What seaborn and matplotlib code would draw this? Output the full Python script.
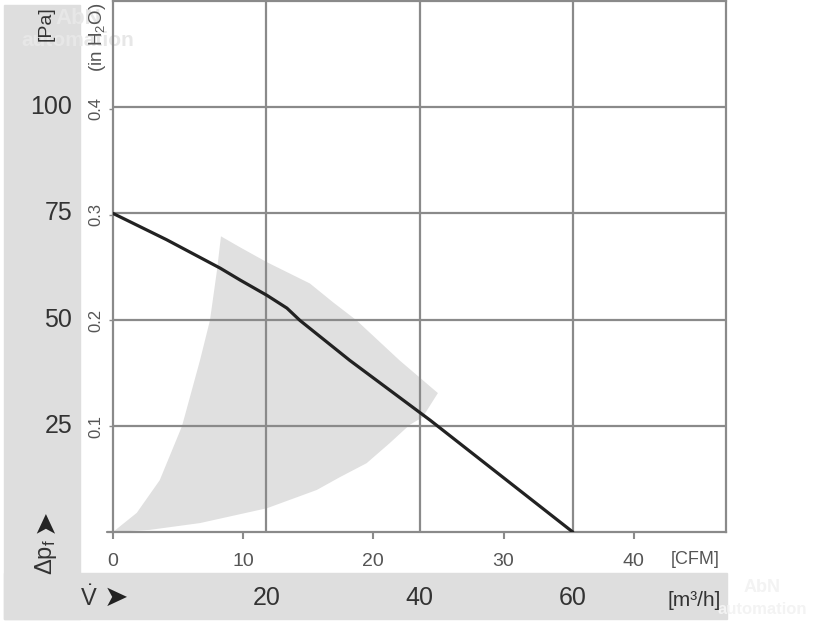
import numpy as np
import pandas as pd
import seaborn as sns
import matplotlib.pyplot as plt
import matplotlib.transforms as mtransforms
from matplotlib.patches import Rectangle
# --------------------------------------------------------------------------------------------------
# Fan curve: pressure [Pa] vs. flow [m3/h]
flow_m3h = [0, 7, 14, 16.6, 20.1, 22.7, 24.4, 30.9, 41.4, 60]
pressure_pa = [75, 68.8, 62.1, 59.3, 55.7, 52.7, 49.8, 40.4, 26.3, 0]

# Operating area (shaded), traced around its outline
area_flow = [0, 3.1, 6.1, 9.0, 11.35, 12.65, 13.57, 14.09,
             16.6, 20.1, 25.7, 28.7, 31.8, 37.4, 40.0, 42.4,
             40.4, 38.7, 36.1, 33.1, 29.6, 26.6, 20.1, 11.35, 4.8, 0]
area_pa = [0, 4.5, 12.2, 24.9, 40.4, 49.8, 61.6, 69.6,
           67.0, 63.5, 58.5, 54.1, 49.8, 40.4, 36.4, 32.7,
           27.0, 25.2, 20.9, 16.2, 12.9, 9.9, 5.6, 2.1, 0.5, 0]

# Axis scales
m3h_ticks = [20, 40, 60]
pa_ticks = [25, 50, 75, 100]
cfm_ticks = [0, 10, 20, 30, 40]
inh2o_ticks = [0.1, 0.2, 0.3, 0.4]
CFM_TO_M3H = 1.699
INH2O_TO_PA = 249.089
# --------------------------------------------------------------------------------------------------
sns.set_style("white")
plt.rcParams['font.family'] = ['Liberation Sans', 'DejaVu Sans']
plt.rcParams['mathtext.fontset'] = 'custom'
plt.rcParams['mathtext.rm'] = 'Liberation Sans'
plt.rcParams['mathtext.default'] = 'regular'

W, H = 816, 624
fig = plt.figure(figsize=(W / 100, H / 100), dpi=100)

band = '#dedede'
fig.patches.append(Rectangle((4 / W, 5 / H), 76 / W, 614 / H, transform=fig.transFigure,
                             color=band, zorder=-1))
fig.patches.append(Rectangle((4 / W, 5 / H), 723 / W, 46 / H, transform=fig.transFigure,
                             color=band, zorder=-1))

ax = fig.add_axes([113 / W, 92 / H, 613 / W, 531 / H])
ax.set_facecolor('none')
ax.set_xlim(0, 80)
ax.set_ylim(0, 125)

gcol = '#8a8a8a'
ax.fill(area_flow, area_pa, color='#e0e0e0', lw=0, zorder=1)
for v in m3h_ticks:
    ax.axvline(v, color=gcol, lw=1.6, zorder=2)
for v in pa_ticks:
    ax.axhline(v, color=gcol, lw=1.6, zorder=2)

curve = pd.DataFrame({'flow': flow_m3h, 'pa': pressure_pa})
sns.lineplot(data=curve, x='flow', y='pa', ax=ax, color='#222222', lw=2.3, zorder=4)
ax.set_xlabel('')
ax.set_ylabel('')

for s in ax.spines.values():
    s.set_color(gcol)
    s.set_linewidth(1.6)
ax.plot([-0.8, 0], [0, 0], color=gcol, lw=1.6, clip_on=False)

# secondary units on the ticks: CFM below, in H2O at left
ax.set_xticks([c * CFM_TO_M3H for c in cfm_ticks])
ax.set_xticklabels([str(c) for c in cfm_ticks])
ax.set_yticks([p * INH2O_TO_PA for p in inh2o_ticks])
ax.set_yticklabels([str(p) for p in inh2o_ticks], rotation=90, va='center')
ax.tick_params(axis='x', direction='out', length=5, width=1.5, color=gcol, pad=10,
               labelsize=14, labelcolor='#555555', bottom=True)
ax.tick_params(axis='y', direction='out', length=3, width=1, color=gcol, pad=4,
               labelsize=12, labelcolor='#555555', left=True)

fig.text(97 / W, 1 - 37 / H, '(in H$_2$O)', rotation=90, ha='center', va='center',
         fontsize=13.5, color='#555555')
fig.text(695 / W, 1 - 559 / H, '[CFM]', ha='center', va='center', fontsize=13, color='#555555')

# main units on the grey bands
tr_y = mtransforms.blended_transform_factory(fig.transFigure, ax.transData)
for v in pa_ticks:
    ax.text(72 / W, v, str(v), transform=tr_y, ha='right', va='center', fontsize=18,
            color='#333333', clip_on=False)
tr_x = mtransforms.blended_transform_factory(ax.transData, fig.transFigure)
for v in m3h_ticks:
    ax.text(v, 1 - 598 / H, str(v), transform=tr_x, ha='center', va='center', fontsize=18,
            color='#333333', clip_on=False)

fig.text(46 / W, 1 - 24 / H, '[Pa]', rotation=90, ha='center', va='center', fontsize=14,
         color='#333333')
fig.text(46 / W, 1 - 557 / H, 'Δp$_f$', rotation=90, ha='center', va='center', fontsize=17,
         color='#333333')
fig.text(45 / W, 1 - 521 / H, '➤', rotation=90, ha='center', va='center', fontsize=21,
         color='#222222', family='DejaVu Sans')
fig.text(80 / W, 1 - 598 / H, r'$\dot{V}$', ha='left', va='center', fontsize=17, color='#333333')
fig.text(116 / W, 1 - 598 / H, '➤', ha='center', va='center', fontsize=21, color='#222222',
         family='DejaVu Sans')
fig.text(694 / W, 1 - 600 / H, '[m³/h]', ha='center', va='center', fontsize=15, color='#333333')

# faint distributor watermark, kept behind everything else
for (x, y, fs, col) in [(78, 18, 16, '#e7e7e7'), (762, 587, 13, '#f3f3f3')]:
    fig.text(x / W, 1 - y / H, 'AbN', ha='center', va='center', fontsize=fs, fontweight='bold',
             color=col, zorder=-0.5)
    fig.text(x / W, 1 - (y + 22) / H, 'automation', ha='center', va='center', fontsize=fs - 1,
             fontweight='bold', color=col, zorder=-0.5)

fig.savefig('out.png', dpi=100)
